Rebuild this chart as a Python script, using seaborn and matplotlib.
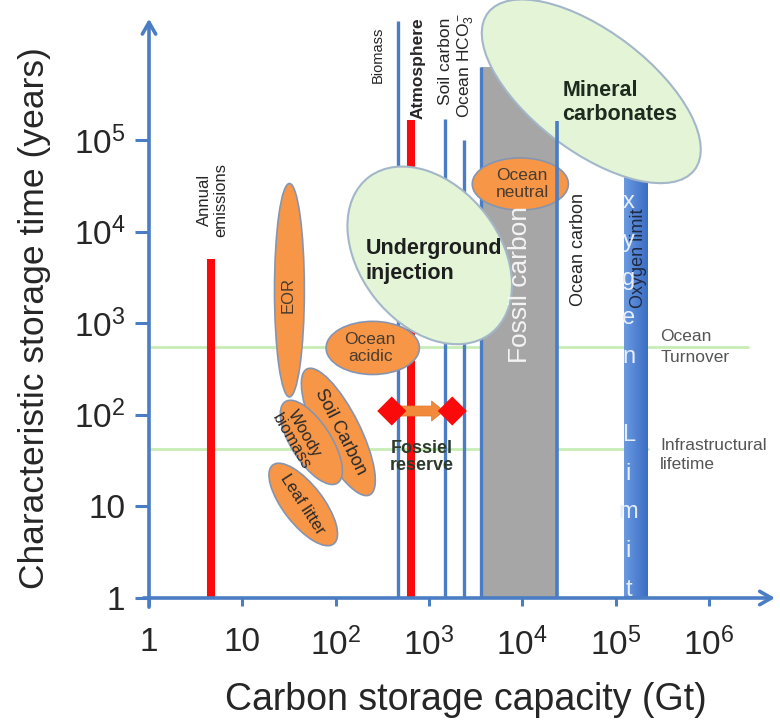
import numpy as np
import pandas as pd
import matplotlib
matplotlib.use("Agg")
import matplotlib.pyplot as plt
import seaborn as sns
from matplotlib.patches import Ellipse, Rectangle
from matplotlib.colors import LinearSegmentedColormap

# ---------------------------------------------------------------- data
decade_ticks_x = [1, 10, 1e2, 1e3, 1e4, 1e5, 1e6]
x_tick_labels = ["1", "10", r"$\mathregular{10^2}$", r"$\mathregular{10^3}$",
                 r"$\mathregular{10^4}$", r"$\mathregular{10^5}$", r"$\mathregular{10^6}$"]
decade_ticks_y = [1, 10, 1e2, 1e3, 1e4, 1e5]
y_tick_labels = ["1", "10", r"$\mathregular{10^2}$", r"$\mathregular{10^3}$",
                 r"$\mathregular{10^4}$", r"$\mathregular{10^5}$"]

# carbon reservoirs drawn as vertical bars: capacity (Gt) and storage time (years)
reservoir_names = ["Annual emissions", "Biomass", "Atmosphere", "Soil carbon",
                   "Ocean HCO3", "Ocean carbon"]
reservoir_capacity_gt = [4.6, 470, 650, 1500, 2400, 23500]
reservoir_time_years = [5000, 2.0e6, 1.65e5, 1.7e5, 1.0e5, 1.6e5]

fossil_carbon_gt = [3600, 23500]
fossil_carbon_years = 6.3e5
oxygen_limit_gt = [1.23e5, 2.2e5]
oxygen_limit_years = 5e4

ocean_turnover_years = 550
infrastructure_years = 42

fossil_reserve_gt = [400, 1780]
fossil_reserve_years = 110

# storage options: centre (Gt, years), long / short span in decades, tilt (deg)
option_names = ["EOR", "Ocean acidic", "Soil Carbon", "Woody biomass", "Leaf litter",
                "Ocean neutral", "Underground injection", "Mineral carbonates"]
option_center_gt = [32, 250, 107, 55, 45, 9550, 1020, 5.5e4]
option_center_years = [2290, 537, 65, 50, 10.5, 3.31e4, 5500, 3.4e5]
option_span_long = [2.33, 1.0, 1.53, 1.05, 1.08, 1.03, 2.15, 2.8]
option_span_short = [0.32, 0.58, 0.47, 0.43, 0.43, 0.57, 1.5, 1.3]
option_tilt = [90, 0, 116, 122, 127, 0, 127, 142]

# ---------------------------------------------------------------- style
BLUE = "#4a7dc4"
RED = "#fa0a0a"
ORANGE = "#f79646"
ORANGE_EDGE = "#8595b0"
PALE_GREEN = "#e3f5d6"
PALE_EDGE = "#a3b7c9"
GREY = "#a6a6a6"
LINE_GREEN = "#c8ecb6"
TXT = "#262626"
BROWN = "#4a3c30"

reservoir_style = {
    "Annual emissions": (RED, 5.8),
    "Biomass": (BLUE, 2.4),
    "Atmosphere": (RED, 5.8),
    "Soil carbon": (BLUE, 2.4),
    "Ocean HCO3": (BLUE, 2.4),
    "Ocean carbon": (BLUE, 2.6),
}
option_zorder = {"Underground injection": 4, "Mineral carbonates": 6, "Ocean neutral": 6.5}

sns.set_theme(style="white")
plt.rcParams["font.family"] = ["Liberation Sans", "DejaVu Sans"]
plt.rcParams["mathtext.fontset"] = "custom"
plt.rcParams["mathtext.rm"] = "Liberation Sans"
plt.rcParams["mathtext.it"] = "Liberation Sans:italic"
plt.rcParams["mathtext.bf"] = "Liberation Sans:bold"

lg = np.log10

fig = plt.figure(figsize=(7.8, 7.25), dpi=100)
ax = fig.add_axes([149 / 780, 1 - 598 / 725, 626 / 780, 582 / 725])
XMAX, YMAX = 626 / 93.3, 582 / 91.6

# horizontal reference times
sns.lineplot(x=[0, 6.42], y=[lg(ocean_turnover_years)] * 2, color=LINE_GREEN,
             linewidth=2, ax=ax, estimator=None, sort=False, zorder=1)
sns.lineplot(x=[0, 5.35], y=[lg(infrastructure_years)] * 2, color=LINE_GREEN,
             linewidth=2, ax=ax, estimator=None, sort=False, zorder=1)

# fossil carbon block
fx0, fx1 = lg(fossil_carbon_gt[0]), lg(fossil_carbon_gt[1])
ax.add_patch(Rectangle((fx0, 0), fx1 - fx0, lg(fossil_carbon_years),
                       facecolor=GREY, edgecolor="none", zorder=2))
sns.lineplot(x=[fx0, fx0], y=[0, lg(fossil_carbon_years)], color=BLUE, linewidth=2.4,
             ax=ax, estimator=None, sort=False, zorder=2.2, solid_capstyle="butt")

# oxygen limit band (gradient)
ox0, ox1 = lg(oxygen_limit_gt[0]), lg(oxygen_limit_gt[1])
band_cmap = LinearSegmentedColormap.from_list("band", ["#6a9ae0", "#3b6dc4"])
ax.imshow(np.linspace(0, 1, 64).reshape(1, -1), extent=[ox0, ox1, 0, lg(oxygen_limit_years)],
          cmap=band_cmap, aspect="auto", zorder=2.5, interpolation="bilinear")

# reservoir bars
for name, cap, top in zip(reservoir_names, reservoir_capacity_gt, reservoir_time_years):
    color, lw = reservoir_style[name]
    z = 7 if name == "Ocean carbon" else 3
    sns.lineplot(x=[lg(cap)] * 2, y=[0, lg(top)], color=color, linewidth=lw, ax=ax,
                 estimator=None, sort=False, zorder=z, solid_capstyle="butt")

# storage option ellipses
for name, cg, cy, a, b, t in zip(option_names, option_center_gt, option_center_years,
                                 option_span_long, option_span_short, option_tilt):
    if name in ("Underground injection", "Mineral carbonates"):
        fc, ec, lw = PALE_GREEN, PALE_EDGE, 1.5
    else:
        fc, ec, lw = ORANGE, ORANGE_EDGE, 1.2
    ax.add_patch(Ellipse((lg(cg), lg(cy)), a, b, angle=t, facecolor=fc, edgecolor=ec,
                         linewidth=lw, zorder=option_zorder.get(name, 5), clip_on=False))

# fossil reserve span
ry = lg(fossil_reserve_years)
ax.annotate("", xy=(lg(fossil_reserve_gt[1]) - 0.09, ry), xytext=(lg(fossil_reserve_gt[0]) + 0.06, ry),
            arrowprops=dict(arrowstyle="simple,head_length=0.55,head_width=0.9,tail_width=0.45",
                            fc="#f28a3c", ec="#e07a30", lw=0.5, mutation_scale=16,
                            shrinkA=0, shrinkB=0), zorder=8)
sns.scatterplot(x=lg(fossil_reserve_gt), y=[ry, ry], marker="D", s=220, color=RED,
                edgecolor="none", ax=ax, zorder=9, legend=False)

# axes with arrow heads
for s in ax.spines.values():
    s.set_visible(False)
ax.annotate("", xy=(XMAX, 0), xytext=(-0.06, 0), annotation_clip=False, zorder=10,
            arrowprops=dict(arrowstyle="->,head_length=0.7,head_width=0.4", color=BLUE,
                            lw=2.6, shrinkA=0, shrinkB=0))
ax.annotate("", xy=(0, YMAX - 0.03), xytext=(0, -0.1), annotation_clip=False, zorder=10,
            arrowprops=dict(arrowstyle="->,head_length=0.7,head_width=0.4", color=BLUE,
                            lw=2.6, shrinkA=0, shrinkB=0))
ax.set_xticks(lg(decade_ticks_x))
ax.set_xticklabels(x_tick_labels)
ax.set_yticks(lg(decade_ticks_y))
ax.set_yticklabels(y_tick_labels)
ax.tick_params(axis="x", direction="out", length=6, width=2.2, color=BLUE, pad=15,
               labelsize=24, labelcolor=TXT, bottom=True)
ax.tick_params(axis="y", direction="out", length=10, width=2.2, color=BLUE, pad=7,
               labelsize=24, labelcolor=TXT, left=True)
ax.set_xlim(0, XMAX)
ax.set_ylim(0, YMAX)
ax.set_xlabel("")
ax.set_ylabel("")

fig.text(466 / 780, 1 - 700 / 725, "Carbon storage capacity (Gt)", ha="center", va="center",
         fontsize=27, color=TXT)
fig.text(35 / 780, 1 - 318 / 725, "Characteristic storage time (years)", ha="center",
         va="center", rotation=90, fontsize=25.5, color=TXT)

# reservoir labels
ax.text(0.68, 4.35, "Annual\nemissions", rotation=90, ha="center", va="center",
        fontsize=12, color=TXT, linespacing=1.15, zorder=11)
ax.text(2.45, 5.93, "Biomass", rotation=90, ha="center", va="center", fontsize=10.5,
        color=TXT, zorder=11)
ax.text(2.88, 5.78, "Atmosphere", rotation=90, ha="center", va="center", fontsize=12.5,
        fontweight="bold", color=TXT, zorder=11)
ax.text(3.18, 5.86, "Soil carbon", rotation=90, ha="center", va="center", fontsize=12.5,
        color=TXT, zorder=11)
ax.text(3.39, 5.81, r"Ocean HCO$_3^-$", rotation=90, ha="center", va="center", fontsize=12.5,
        color=TXT, zorder=11)
ax.text(4.6, 3.8, "Ocean carbon", rotation=90, ha="center", va="center", fontsize=13,
        color=TXT, zorder=11)
ax.text(3.98, 3.42, "Fossil carbon", rotation=90, ha="center", va="center", fontsize=19,
        color="#f4f4f4", zorder=11)
ax.text(5.25, 3.71, "Oxygen limit", rotation=90, ha="center", va="center", fontsize=13,
        color="#1f2a44", zorder=11)
for i, ch in enumerate("Oxygen Limit"):
    ax.text(5.14, 4.75 - i * 0.424, ch, ha="center", va="center", fontsize=17,
            color="#e6eefa", zorder=5.5 if ch == "O" else 11)
ax.text(5.48, lg(ocean_turnover_years), "Ocean\nTurnover", ha="left", va="center",
        fontsize=12.5, color="#555555", linespacing=1.5, zorder=11)
ax.text(5.48, 1.56, "Infrastructural\nlifetime", ha="left", va="center",
        fontsize=12.5, color="#555555", linespacing=1.3, zorder=11)

# storage option labels
ax.text(1.49, 3.31, "EOR", rotation=90, ha="center", va="center", fontsize=12,
        color=BROWN, zorder=11)
ax.text(2.37, 2.73, "Ocean\nacidic", ha="center", va="center", fontsize=12.5,
        color=BROWN, zorder=11)
ax.text(4.0, 4.52, "Ocean\nneutral", ha="center", va="center", fontsize=12.5,
        color=BROWN, zorder=11)
ax.text(2.05, 1.81, "Soil Carbon", rotation=-63, ha="center", va="center", fontsize=13,
        color="#2a2a2a", zorder=11, rotation_mode="anchor")
ax.text(1.6, 1.75, "Woody\nbiomass", rotation=-60, ha="center", va="center", fontsize=12,
        color="#2a2a2a", zorder=11, rotation_mode="anchor", linespacing=1.0)
ax.text(1.64, 1.02, "Leaf litter", rotation=-57, ha="center", va="center", fontsize=12,
        color="#2a2a2a", zorder=11, rotation_mode="anchor")
ax.text(2.32, 3.68, "Underground\ninjection", ha="left", va="center", fontsize=15.5,
        fontweight="bold", color="#1e1e1e", zorder=11, linespacing=1.25)
ax.text(4.43, 5.41, "Mineral\ncarbonates", ha="left", va="center", fontsize=15.5,
        fontweight="bold", color="#1e2a1e", zorder=11, linespacing=1.15)
ax.text(2.92, 1.54, "Fossiel\nreserve", ha="center", va="center", fontsize=13,
        fontweight="bold", color="#2c3b2c", zorder=11, linespacing=1.05)

fig.savefig("out.png", dpi=100)
